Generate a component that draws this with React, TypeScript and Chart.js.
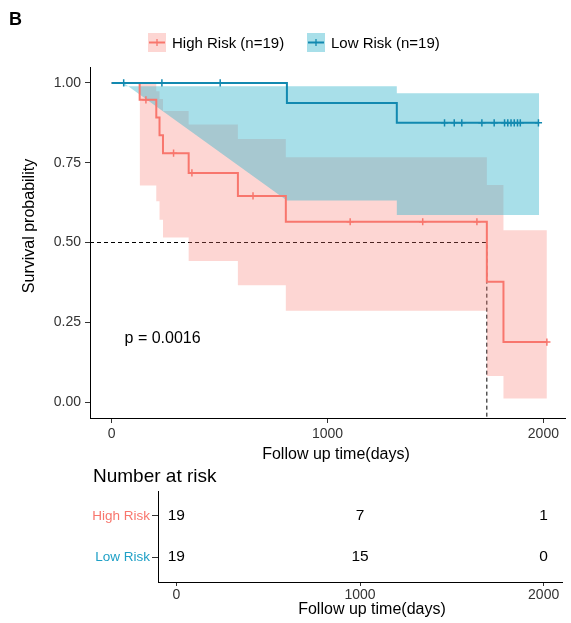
import React, { useEffect, useRef } from 'react';
import { Chart, registerables } from 'chart.js';
Chart.register(...registerables);

const FONT = '"Liberation Sans", Arial, sans-serif';

// ---- High risk group (Kaplan-Meier) ----
const highTimes = [0, 130, 207, 222, 238, 357, 585, 807, 1738, 1815];
const highSurv = [1, 0.947, 0.892, 0.836, 0.78, 0.718, 0.646, 0.565, 0.377, 0.188];
const highEndTime = 2016;
const highCensorTimes = [159, 287, 372, 655, 1105, 1441, 1692, 2016];
const highBandTimes = [130, 207, 222, 238, 357, 585, 807, 1738, 1815];
const highUpper = [1.0, 0.974, 0.95, 0.912, 0.87, 0.824, 0.767, 0.68, 0.538];
const highLower = [0.679, 0.629, 0.571, 0.516, 0.442, 0.366, 0.286, 0.082, 0.011];

// ---- Low risk group ----
const lowTimes = [0, 812, 1321];
const lowSurv = [1, 0.9375, 0.875];
const lowEndTime = 1980;
const lowCensorTimes = [56, 233, 503, 1542, 1587, 1622, 1715, 1772, 1820, 1835, 1850, 1865, 1880, 1893, 1977];
const lowUpperTimes = [56, 812, 1321];
const lowUpper = [0.99, 0.99, 0.968];
const lowLowerStart = { t: 56, v: 1.0 };
const lowLowerTimes = [812, 1321];
const lowLower = [0.632, 0.586];

const medianTime = 1738;
const medianSurv = 0.5;
const pValueText = 'p = 0.0016';
const pValueAt = { t: 60, v: 0.2 };

// ---- Number at risk ----
const riskGroups = ['High Risk', 'Low Risk'];
const riskTimes = [0, 1000, 2000];
const highAtRisk = [19, 7, 1];
const lowAtRisk = [19, 15, 0];

const xTicks = [0, 1000, 2000];
const yTicks = [0, 0.25, 0.5, 0.75, 1];
const X_MIN = -100;
const X_MAX = 2100;
const Y_MIN = -0.05;
const Y_MAX = 1.05;

const RED = '#F8766D';
const BLUE = '#1289B0';
const BLUE_LABEL = '#1FA0C6';
const RED_FILL = 'rgba(248,118,109,0.3)';
const BLUE_FILL = 'rgba(57,182,205,0.44)';
const TICK_COLOR = '#333333';

function stepPoints(times: number[], values: number[], end: number) {
  const pts: { x: number; y: number }[] = [];
  for (let i = 0; i < times.length; i++) {
    if (i > 0) pts.push({ x: times[i], y: values[i - 1] });
    pts.push({ x: times[i], y: values[i] });
  }
  pts.push({ x: end, y: values[values.length - 1] });
  return pts;
}

function survAt(times: number[], surv: number[], t: number) {
  let v = surv[0];
  for (let i = 0; i < times.length; i++) if (times[i] <= t) v = surv[i];
  return v;
}

const mainTextPlugin = {
  id: 'mainText',
  afterDraw(chart: any) {
    const ctx = chart.ctx;
    ctx.save();
    ctx.fillStyle = '#000';
    ctx.font = `bold 18px ${FONT}`;
    ctx.textAlign = 'left';
    ctx.textBaseline = 'alphabetic';
    ctx.fillText('B', 9, 25);
    const items = [
      { x: 148, fill: RED_FILL, color: RED, text: 'High Risk (n=19)' },
      { x: 307, fill: BLUE_FILL, color: BLUE, text: 'Low Risk (n=19)' },
    ];
    items.forEach((it) => {
      ctx.fillStyle = it.fill;
      ctx.fillRect(it.x, 33, 18, 19);
      ctx.strokeStyle = it.color;
      ctx.lineWidth = 2;
      ctx.beginPath();
      ctx.moveTo(it.x + 1, 42.5);
      ctx.lineTo(it.x + 17, 42.5);
      ctx.stroke();
      ctx.lineWidth = 1.3;
      ctx.beginPath();
      ctx.moveTo(it.x + 9, 39);
      ctx.lineTo(it.x + 9, 46);
      ctx.stroke();
      ctx.fillStyle = '#000';
      ctx.font = `15px ${FONT}`;
      ctx.textBaseline = 'alphabetic';
      ctx.fillText(it.text, it.x + 24, 47.5);
    });
    ctx.fillStyle = '#000';
    ctx.font = `16px ${FONT}`;
    ctx.textAlign = 'center';
    ctx.fillText('Follow up time(days)', 336, 458.5);
    ctx.save();
    ctx.translate(34, 226);
    ctx.rotate(-Math.PI / 2);
    ctx.fillText('Survival probability', 0, 0);
    ctx.restore();
    const xs = chart.scales.x;
    const ys = chart.scales.y;
    ctx.textAlign = 'left';
    ctx.textBaseline = 'middle';
    ctx.font = `16px ${FONT}`;
    ctx.fillText(pValueText, xs.getPixelForValue(pValueAt.t), ys.getPixelForValue(pValueAt.v));
    ctx.restore();
  },
};

const tableTextPlugin = {
  id: 'tableText',
  afterDraw(chart: any) {
    const ctx = chart.ctx;
    ctx.save();
    ctx.fillStyle = '#000';
    ctx.font = `19px ${FONT}`;
    ctx.textAlign = 'left';
    ctx.textBaseline = 'alphabetic';
    ctx.fillText('Number at risk', 93, 26.7);
    ctx.font = `16px ${FONT}`;
    ctx.textAlign = 'center';
    ctx.fillText('Follow up time(days)', 372, 159);
    const tables = [highAtRisk, lowAtRisk];
    ctx.font = `15.5px ${FONT}`;
    ctx.textBaseline = 'middle';
    tables.forEach((vals, d) => {
      const meta = chart.getDatasetMeta(d);
      meta.data.forEach((pt: any, j: number) => {
        ctx.fillText(String(vals[j]), pt.x, pt.y);
      });
    });
    ctx.restore();
  },
};

export default function App() {
  const mainRef = useRef<HTMLCanvasElement>(null);
  const tableRef = useRef<HTMLCanvasElement>(null);

  useEffect(() => {
    const tickFont = { family: FONT, size: 14 };
    const censorDs = (times: number[], st: number[], sv: number[], color: string) => ({
      data: times.map((t) => ({ x: t, y: survAt(st, sv, t) })),
      showLine: false,
      pointStyle: 'cross',
      pointRadius: 3.6,
      pointBorderWidth: 1.5,
      pointBorderColor: color,
      borderColor: color,
    });
    const main = new Chart(mainRef.current!, {
      type: 'line',
      data: {
        datasets: [
          { data: stepPoints(lowTimes, lowSurv, lowEndTime), borderColor: BLUE, borderWidth: 2, pointRadius: 0, fill: false },
          { data: stepPoints(highTimes, highSurv, highEndTime), borderColor: RED, borderWidth: 2, pointRadius: 0, fill: false },
          censorDs(lowCensorTimes, lowTimes, lowSurv, BLUE),
          censorDs(highCensorTimes, highTimes, highSurv, RED),
          {
            data: stepPoints(lowUpperTimes, lowUpper, lowEndTime),
            borderWidth: 0, pointRadius: 0, borderColor: 'rgba(0,0,0,0)',
            backgroundColor: BLUE_FILL, fill: '+1',
          },
          {
            data: [{ x: lowLowerStart.t, y: lowLowerStart.v }, ...stepPoints(lowLowerTimes, lowLower, lowEndTime)],
            borderWidth: 0, pointRadius: 0, borderColor: 'rgba(0,0,0,0)', fill: false,
          },
          {
            data: stepPoints(highBandTimes, highUpper, highEndTime),
            borderWidth: 0, pointRadius: 0, borderColor: 'rgba(0,0,0,0)',
            backgroundColor: RED_FILL, fill: '+1',
          },
          {
            data: stepPoints(highBandTimes, highLower, highEndTime),
            borderWidth: 0, pointRadius: 0, borderColor: 'rgba(0,0,0,0)', fill: false,
          },
          {
            data: [
              { x: X_MIN, y: medianSurv },
              { x: medianTime, y: medianSurv },
              { x: medianTime, y: Y_MIN },
            ],
            borderColor: '#000', borderWidth: 1, borderDash: [4, 3], pointRadius: 0, fill: false,
          },
        ] as any,
      },
      options: {
        animation: false,
        responsive: false,
        events: [],
        layout: { padding: { left: 0, right: 6, top: 67, bottom: 0 } },
        plugins: { legend: { display: false }, tooltip: { enabled: false } },
        scales: {
          x: {
            type: 'linear',
            min: X_MIN,
            max: X_MAX,
            afterBuildTicks: (s: any) => { s.ticks = xTicks.map((v) => ({ value: v })); },
            ticks: { font: tickFont, color: TICK_COLOR, padding: 3, maxRotation: 0, autoSkip: false, callback: (v: any) => String(v) },
            grid: { drawOnChartArea: false, tickLength: 5, color: TICK_COLOR, lineWidth: 1 },
            border: { color: '#000', width: 1 },
            afterFit: (s: any) => { s.height = 52; },
          },
          y: {
            type: 'linear',
            min: Y_MIN,
            max: Y_MAX,
            afterBuildTicks: (s: any) => { s.ticks = yTicks.map((v) => ({ value: v })); },
            ticks: { font: tickFont, color: TICK_COLOR, padding: 4, callback: (v: any) => Number(v).toFixed(2) },
            grid: { drawOnChartArea: false, tickLength: 5, color: TICK_COLOR, lineWidth: 1 },
            border: { color: '#000', width: 1 },
            afterFit: (s: any) => { s.width = 90; },
          },
        },
      } as any,
      plugins: [mainTextPlugin],
    });

    const table = new Chart(tableRef.current!, {
      type: 'line',
      data: {
        datasets: [
          { data: riskTimes.map((t) => ({ x: t, y: 1 })), showLine: false, pointRadius: 0 },
          { data: riskTimes.map((t) => ({ x: t, y: 2 })), showLine: false, pointRadius: 0 },
        ],
      },
      options: {
        animation: false,
        responsive: false,
        events: [],
        layout: { padding: { left: 0, right: 9, top: 36, bottom: 0 } },
        plugins: { legend: { display: false }, tooltip: { enabled: false } },
        scales: {
          x: {
            type: 'linear',
            min: X_MIN,
            max: X_MAX,
            afterBuildTicks: (s: any) => { s.ticks = xTicks.map((v) => ({ value: v })); },
            ticks: { font: tickFont, color: TICK_COLOR, padding: 1, maxRotation: 0, autoSkip: false, callback: (v: any) => String(v) },
            grid: { drawOnChartArea: false, tickLength: 4, color: TICK_COLOR, lineWidth: 1 },
            border: { color: '#000', width: 1 },
            afterFit: (s: any) => { s.height = 41; },
          },
          y: {
            type: 'linear',
            min: 0.4,
            max: 2.6,
            reverse: true,
            afterBuildTicks: (s: any) => { s.ticks = [1, 2].map((v) => ({ value: v })); },
            ticks: {
              font: { family: FONT, size: 13.5 },
              padding: 2,
              color: (c: any) => (c.tick && c.tick.value === 1 ? RED : BLUE_LABEL),
              callback: (v: any) => riskGroups[Number(v) - 1],
            },
            grid: { drawOnChartArea: false, tickLength: 6, color: TICK_COLOR, lineWidth: 1 },
            border: { color: '#000', width: 1 },
            afterFit: (s: any) => { s.width = 158; },
          },
        },
      } as any,
      plugins: [tableTextPlugin],
    });

    return () => {
      main.destroy();
      table.destroy();
    };
  }, []);

  return (
    <div style={{ position: 'absolute', left: 0, top: 0, width: 571, height: 623, background: '#fff' }}>
      <canvas ref={mainRef} width={571} height={470} style={{ position: 'absolute', left: 0, top: 0 }} />
      <canvas ref={tableRef} width={571} height={168} style={{ position: 'absolute', left: 0, top: 455 }} />
    </div>
  );
}
